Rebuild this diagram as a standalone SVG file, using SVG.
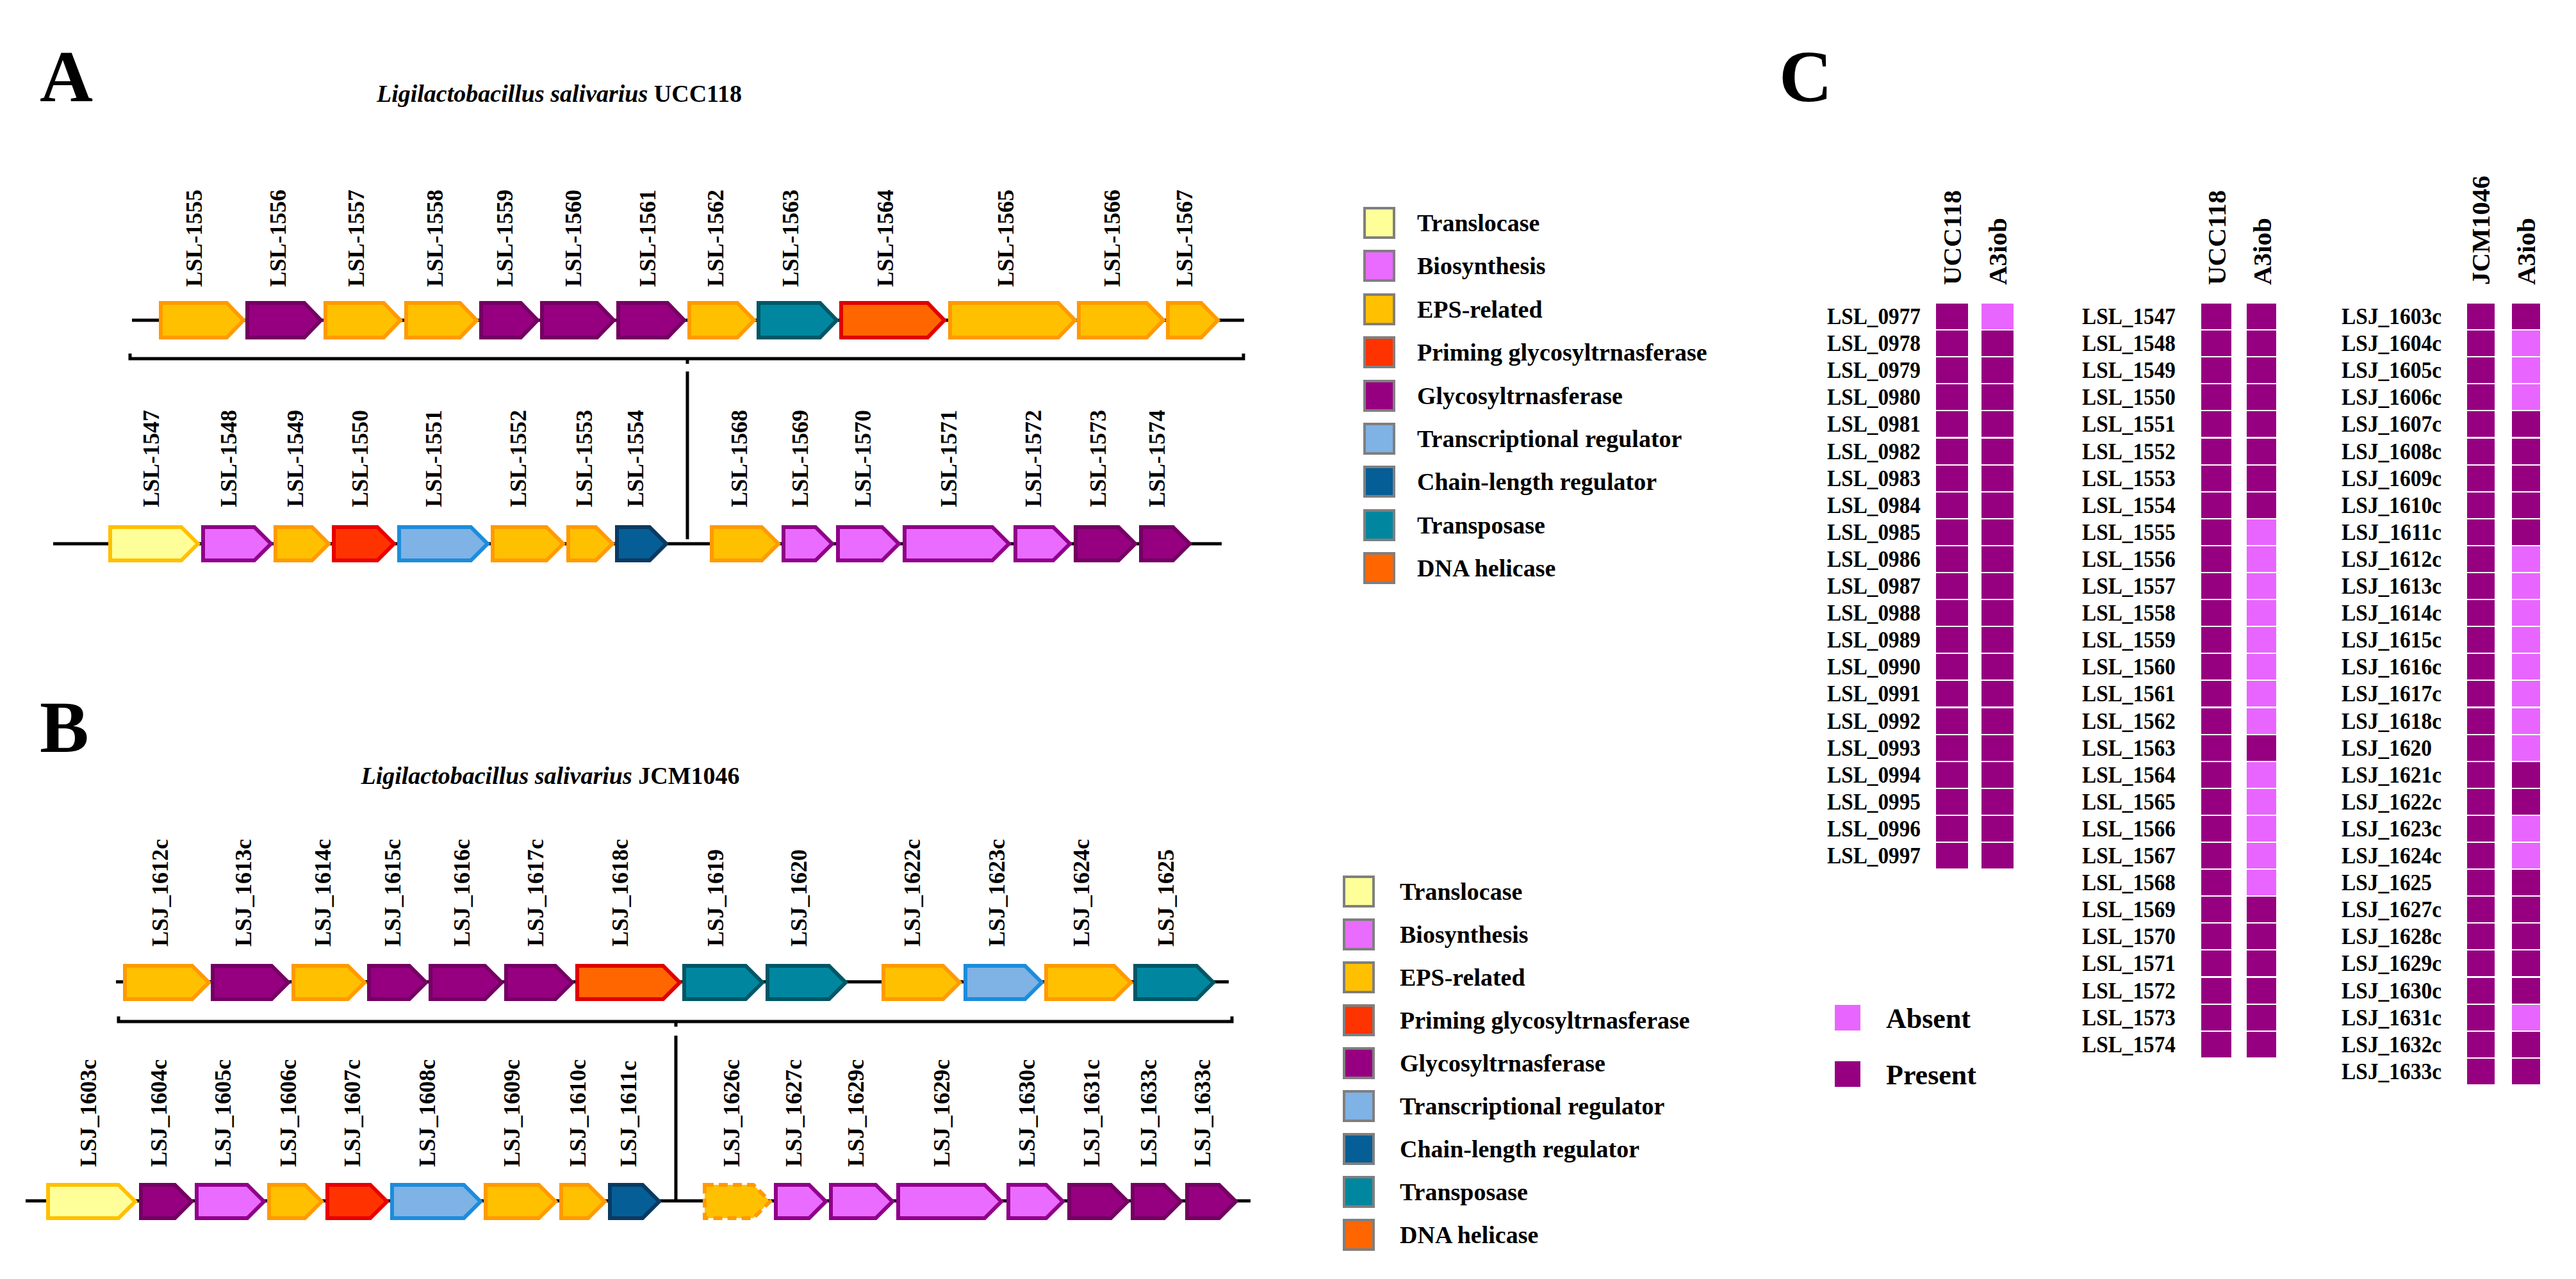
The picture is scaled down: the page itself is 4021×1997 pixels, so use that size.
<svg xmlns="http://www.w3.org/2000/svg" width="4021" height="1997" viewBox="0 0 4021 1997">
<style>
text{font-family:"Liberation Serif","Times New Roman",serif;font-weight:bold;fill:#000}
.pl{font-size:115px}
.ttl{font-size:38px}
.lab{font-size:36px}
.leg{font-size:38px}
.row{font-size:35px}
.hdr{font-size:41px}
.cl{font-size:44px}
polygon{stroke-width:6;stroke-linejoin:miter}
.trl{fill:#FFFF99;stroke:#FFC000}
.bio{fill:#EA6BFF;stroke:#8F0088}
.eps{fill:#FFC000;stroke:#FF9A00}
.pri{fill:#FF3300;stroke:#E80000}
.gly{fill:#960080;stroke:#730062}
.txr{fill:#7FB2E5;stroke:#1C8CDC}
.chl{fill:#065E96;stroke:#0A3A62}
.trp{fill:#00879F;stroke:#005766}
.dna{fill:#FF6600;stroke:#E00000}
.dash{stroke-dasharray:14 8}
.sw{stroke:#7F7F7F;stroke-width:4}
.line{stroke:#000;stroke-width:5;fill:none}
.p{fill:#960080}
.a{fill:#E866FF}
</style>

<!-- Panel letters and titles -->
<text class="pl" x="62" y="158">A</text>
<text class="pl" x="62" y="1174">B</text>
<text class="pl" x="2777" y="158">C</text>
<text class="ttl" x="873" y="159" text-anchor="middle"><tspan font-style="italic">Ligilactobacillus salivarius</tspan> UCC118</text>
<text class="ttl" x="859" y="1224" text-anchor="middle"><tspan font-style="italic">Ligilactobacillus salivarius</tspan> JCM1046</text>

<!-- connectors: backbones and brackets -->
<g id="connectors">
  <line class="line" x1="206" y1="500" x2="1942" y2="500"/>
  <polyline class="line" points="203,552 203,560 1941,560 1941,552"/>
  <line class="line" x1="1073" y1="560" x2="1073" y2="568"/>
  <line class="line" x1="1073" y1="580" x2="1073" y2="842"/>
  <line class="line" x1="83" y1="849" x2="1907" y2="849"/>

  <line class="line" x1="181" y1="1533" x2="1918" y2="1533"/>
  <polyline class="line" points="185,1587 185,1595 1923,1595 1923,1587"/>
  <line class="line" x1="1055" y1="1595" x2="1055" y2="1603"/>
  <line class="line" x1="1055" y1="1617" x2="1055" y2="1875"/>
  <line class="line" x1="40" y1="1875" x2="1952" y2="1875"/>
</g>

<!-- Panel A top row -->
<g id="A-top">
<g id="LSL-1555"><polygon class="eps" points="251,473 354,473 380,500 354,527 251,527"/><text class="lab" transform="translate(315,448) rotate(-90)">LSL-1555</text></g>
<g id="LSL-1556"><polygon class="gly" points="386,473 475,473 501,500 475,527 386,527"/><text class="lab" transform="translate(446,448) rotate(-90)">LSL-1556</text></g>
<g id="LSL-1557"><polygon class="eps" points="508,473 599,473 625,500 599,527 508,527"/><text class="lab" transform="translate(568,448) rotate(-90)">LSL-1557</text></g>
<g id="LSL-1558"><polygon class="eps" points="634,473 718,473 744,500 718,527 634,527"/><text class="lab" transform="translate(691,448) rotate(-90)">LSL-1558</text></g>
<g id="LSL-1559"><polygon class="gly" points="751,473 813,473 839,500 813,527 751,527"/><text class="lab" transform="translate(800,448) rotate(-90)">LSL-1559</text></g>
<g id="LSL-1560"><polygon class="gly" points="846,473 932,473 958,500 932,527 846,527"/><text class="lab" transform="translate(907,448) rotate(-90)">LSL-1560</text></g>
<g id="LSL-1561"><polygon class="gly" points="965,473 1042,473 1068,500 1042,527 965,527"/><text class="lab" transform="translate(1023,448) rotate(-90)">LSL-1561</text></g>
<g id="LSL-1562"><polygon class="eps" points="1076,473 1151,473 1177,500 1151,527 1076,527"/><text class="lab" transform="translate(1129,448) rotate(-90)">LSL-1562</text></g>
<g id="LSL-1563"><polygon class="trp" points="1184,473 1280,473 1306,500 1280,527 1184,527"/><text class="lab" transform="translate(1246,448) rotate(-90)">LSL-1563</text></g>
<g id="LSL-1564"><polygon class="dna" points="1313,473 1448,473 1474,500 1448,527 1313,527"/><text class="lab" transform="translate(1394,448) rotate(-90)">LSL-1564</text></g>
<g id="LSL-1565"><polygon class="eps" points="1483,473 1652,473 1678,500 1652,527 1483,527"/><text class="lab" transform="translate(1582,448) rotate(-90)">LSL-1565</text></g>
<g id="LSL-1566"><polygon class="eps" points="1684,473 1790,473 1816,500 1790,527 1684,527"/><text class="lab" transform="translate(1748,448) rotate(-90)">LSL-1566</text></g>
<g id="LSL-1567"><polygon class="eps" points="1823,473 1875,473 1901,500 1875,527 1823,527"/><text class="lab" transform="translate(1861,448) rotate(-90)">LSL-1567</text></g>
</g>

<!-- Panel A bottom row -->
<g id="A-bottom">
<g id="LSL-1547"><polygon class="trl" points="172,823 283,823 309,849 283,875 172,875"/><text class="lab" transform="translate(248,792) rotate(-90)">LSL-1547</text></g>
<g id="LSL-1548"><polygon class="bio" points="317,823 397,823 423,849 397,875 317,875"/><text class="lab" transform="translate(369,792) rotate(-90)">LSL-1548</text></g>
<g id="LSL-1549"><polygon class="eps" points="430,823 487,823 513,849 487,875 430,875"/><text class="lab" transform="translate(473,792) rotate(-90)">LSL-1549</text></g>
<g id="LSL-1550"><polygon class="pri" points="521,823 589,823 615,849 589,875 521,875"/><text class="lab" transform="translate(574,792) rotate(-90)">LSL-1550</text></g>
<g id="LSL-1551"><polygon class="txr" points="623,823 735,823 761,849 735,875 623,875"/><text class="lab" transform="translate(689,792) rotate(-90)">LSL-1551</text></g>
<g id="LSL-1552"><polygon class="eps" points="769,823 853,823 879,849 853,875 769,875"/><text class="lab" transform="translate(821,792) rotate(-90)">LSL-1552</text></g>
<g id="LSL-1553"><polygon class="eps" points="887,823 930,823 956,849 930,875 887,875"/><text class="lab" transform="translate(924,792) rotate(-90)">LSL-1553</text></g>
<g id="LSL-1554"><polygon class="chl" points="963,823 1014,823 1040,849 1014,875 963,875"/><text class="lab" transform="translate(1004,792) rotate(-90)">LSL-1554</text></g>
<g id="LSL-1568"><polygon class="eps" points="1111,823 1189,823 1215,849 1189,875 1111,875"/><text class="lab" transform="translate(1166,792) rotate(-90)">LSL-1568</text></g>
<g id="LSL-1569"><polygon class="bio" points="1223,823 1273,823 1299,849 1273,875 1223,875"/><text class="lab" transform="translate(1261,792) rotate(-90)">LSL-1569</text></g>
<g id="LSL-1570"><polygon class="bio" points="1308,823 1377,823 1403,849 1377,875 1308,875"/><text class="lab" transform="translate(1359,792) rotate(-90)">LSL-1570</text></g>
<g id="LSL-1571"><polygon class="bio" points="1412,823 1549,823 1575,849 1549,875 1412,875"/><text class="lab" transform="translate(1493,792) rotate(-90)">LSL-1571</text></g>
<g id="LSL-1572"><polygon class="bio" points="1585,823 1644,823 1670,849 1644,875 1585,875"/><text class="lab" transform="translate(1625,792) rotate(-90)">LSL-1572</text></g>
<g id="LSL-1573"><polygon class="gly" points="1679,823 1746,823 1772,849 1746,875 1679,875"/><text class="lab" transform="translate(1726,792) rotate(-90)">LSL-1573</text></g>
<g id="LSL-1574"><polygon class="gly" points="1781,823 1831,823 1857,849 1831,875 1781,875"/><text class="lab" transform="translate(1818,792) rotate(-90)">LSL-1574</text></g>
</g>

<!-- Panel B top row -->
<g id="B-top">
<g id="LSJ_1612c"><polygon class="eps" points="195,1508 300,1508 326,1534 300,1560 195,1560"/><text class="lab" transform="translate(262,1478) rotate(-90)">LSJ_1612c</text></g>
<g id="LSJ_1613c"><polygon class="gly" points="332,1508 424,1508 450,1534 424,1560 332,1560"/><text class="lab" transform="translate(392,1478) rotate(-90)">LSJ_1613c</text></g>
<g id="LSJ_1614c"><polygon class="eps" points="458,1508 543,1508 569,1534 543,1560 458,1560"/><text class="lab" transform="translate(516,1478) rotate(-90)">LSJ_1614c</text></g>
<g id="LSJ_1615c"><polygon class="gly" points="576,1508 639,1508 665,1534 639,1560 576,1560"/><text class="lab" transform="translate(625,1478) rotate(-90)">LSJ_1615c</text></g>
<g id="LSJ_1616c"><polygon class="gly" points="672,1508 757,1508 783,1534 757,1560 672,1560"/><text class="lab" transform="translate(733,1478) rotate(-90)">LSJ_1616c</text></g>
<g id="LSJ_1617c"><polygon class="gly" points="790,1508 867,1508 893,1534 867,1560 790,1560"/><text class="lab" transform="translate(848,1478) rotate(-90)">LSJ_1617c</text></g>
<g id="LSJ_1618c"><polygon class="dna" points="901,1508 1035,1508 1061,1534 1035,1560 901,1560"/><text class="lab" transform="translate(980,1478) rotate(-90)">LSJ_1618c</text></g>
<g id="LSJ_1619"><polygon class="trp" points="1068,1508 1164,1508 1190,1534 1164,1560 1068,1560"/><text class="lab" transform="translate(1129,1478) rotate(-90)">LSJ_1619</text></g>
<g id="LSJ_1620"><polygon class="trp" points="1198,1508 1294,1508 1320,1534 1294,1560 1198,1560"/><text class="lab" transform="translate(1259,1478) rotate(-90)">LSJ_1620</text></g>
<g id="LSJ_1622c"><polygon class="eps" points="1379,1508 1472,1508 1498,1534 1472,1560 1379,1560"/><text class="lab" transform="translate(1436,1478) rotate(-90)">LSJ_1622c</text></g>
<g id="LSJ_1623c"><polygon class="txr" points="1507,1508 1600,1508 1626,1534 1600,1560 1507,1560"/><text class="lab" transform="translate(1568,1478) rotate(-90)">LSJ_1623c</text></g>
<g id="LSJ_1624c"><polygon class="eps" points="1633,1508 1739,1508 1765,1534 1739,1560 1633,1560"/><text class="lab" transform="translate(1700,1478) rotate(-90)">LSJ_1624c</text></g>
<g id="LSJ_1625"><polygon class="trp" points="1772,1508 1868,1508 1894,1534 1868,1560 1772,1560"/><text class="lab" transform="translate(1832,1478) rotate(-90)">LSJ_1625</text></g>
</g>

<!-- Panel B bottom row -->
<g id="B-bottom">
<g id="LSJ_1603c"><polygon class="trl" points="75,1850 185,1850 211,1876 185,1902 75,1902"/><text class="lab" transform="translate(150,1822) rotate(-90)">LSJ_1603c</text></g>
<g id="LSJ_1604c"><polygon class="gly" points="220,1850 273,1850 299,1876 273,1902 220,1902"/><text class="lab" transform="translate(260,1822) rotate(-90)">LSJ_1604c</text></g>
<g id="LSJ_1605c"><polygon class="bio" points="307,1850 386,1850 412,1876 386,1902 307,1902"/><text class="lab" transform="translate(360,1822) rotate(-90)">LSJ_1605c</text></g>
<g id="LSJ_1606c"><polygon class="eps" points="420,1850 476,1850 502,1876 476,1902 420,1902"/><text class="lab" transform="translate(462,1822) rotate(-90)">LSJ_1606c</text></g>
<g id="LSJ_1607c"><polygon class="pri" points="511,1850 578,1850 604,1876 578,1902 511,1902"/><text class="lab" transform="translate(562,1822) rotate(-90)">LSJ_1607c</text></g>
<g id="LSJ_1608c"><polygon class="txr" points="612,1850 724,1850 750,1876 724,1902 612,1902"/><text class="lab" transform="translate(679,1822) rotate(-90)">LSJ_1608c</text></g>
<g id="LSJ_1609c"><polygon class="eps" points="758,1850 841,1850 867,1876 841,1902 758,1902"/><text class="lab" transform="translate(811,1822) rotate(-90)">LSJ_1609c</text></g>
<g id="LSJ_1610c"><polygon class="eps" points="876,1850 918,1850 944,1876 918,1902 876,1902"/><text class="lab" transform="translate(914,1822) rotate(-90)">LSJ_1610c</text></g>
<g id="LSJ_1611c"><polygon class="chl" points="952,1850 1003,1850 1029,1876 1003,1902 952,1902"/><text class="lab" transform="translate(993,1822) rotate(-90)">LSJ_1611c</text></g>
<g id="LSJ_1626c"><polygon class="eps dash" points="1100,1850 1176,1850 1202,1876 1176,1902 1100,1902"/><text class="lab" transform="translate(1154,1822) rotate(-90)">LSJ_1626c</text></g>
<g id="LSJ_1627c"><polygon class="bio" points="1211,1850 1263,1850 1289,1876 1263,1902 1211,1902"/><text class="lab" transform="translate(1251,1822) rotate(-90)">LSJ_1627c</text></g>
<g id="LSJ_1629c-a"><polygon class="bio" points="1297,1850 1367,1850 1393,1876 1367,1902 1297,1902"/><text class="lab" transform="translate(1348,1822) rotate(-90)">LSJ_1629c</text></g>
<g id="LSJ_1629c-b"><polygon class="bio" points="1402,1850 1537,1850 1563,1876 1537,1902 1402,1902"/><text class="lab" transform="translate(1482,1822) rotate(-90)">LSJ_1629c</text></g>
<g id="LSJ_1630c"><polygon class="bio" points="1574,1850 1633,1850 1659,1876 1633,1902 1574,1902"/><text class="lab" transform="translate(1615,1822) rotate(-90)">LSJ_1630c</text></g>
<g id="LSJ_1631c"><polygon class="gly" points="1669,1850 1734,1850 1760,1876 1734,1902 1669,1902"/><text class="lab" transform="translate(1716,1822) rotate(-90)">LSJ_1631c</text></g>
<g id="LSJ_1633c-a"><polygon class="gly" points="1768,1850 1817,1850 1843,1876 1817,1902 1768,1902"/><text class="lab" transform="translate(1805,1822) rotate(-90)">LSJ_1633c</text></g>
<g id="LSJ_1633c-b"><polygon class="gly" points="1853,1850 1903,1850 1929,1876 1903,1902 1853,1902"/><text class="lab" transform="translate(1889,1822) rotate(-90)">LSJ_1633c</text></g>
</g>

<!-- Legend A -->
<g id="legend-A">
<rect class="sw trl" x="2130" y="325" width="46" height="46"/><text class="leg" x="2212" y="361">Translocase</text>
<rect class="sw bio" x="2130" y="392" width="46" height="46"/><text class="leg" x="2212" y="428">Biosynthesis</text>
<rect class="sw eps" x="2130" y="460" width="46" height="46"/><text class="leg" x="2212" y="496">EPS-related</text>
<rect class="sw pri" x="2130" y="527" width="46" height="46"/><text class="leg" x="2212" y="563">Priming glycosyltrnasferase</text>
<rect class="sw gly" x="2130" y="595" width="46" height="46"/><text class="leg" x="2212" y="631">Glycosyltrnasferase</text>
<rect class="sw txr" x="2130" y="662" width="46" height="46"/><text class="leg" x="2212" y="698">Transcriptional regulator</text>
<rect class="sw chl" x="2130" y="729" width="46" height="46"/><text class="leg" x="2212" y="765">Chain-length regulator</text>
<rect class="sw trp" x="2130" y="797" width="46" height="46"/><text class="leg" x="2212" y="833">Transposase</text>
<rect class="sw dna" x="2130" y="864" width="46" height="46"/><text class="leg" x="2212" y="900">DNA helicase</text>
</g>

<!-- Legend B -->
<g id="legend-B">
<rect class="sw trl" x="2098" y="1369" width="46" height="46"/><text class="leg" x="2185" y="1405">Translocase</text>
<rect class="sw bio" x="2098" y="1436" width="46" height="46"/><text class="leg" x="2185" y="1472">Biosynthesis</text>
<rect class="sw eps" x="2098" y="1503" width="46" height="46"/><text class="leg" x="2185" y="1539">EPS-related</text>
<rect class="sw pri" x="2098" y="1570" width="46" height="46"/><text class="leg" x="2185" y="1606">Priming glycosyltrnasferase</text>
<rect class="sw gly" x="2098" y="1637" width="46" height="46"/><text class="leg" x="2185" y="1673">Glycosyltrnasferase</text>
<rect class="sw txr" x="2098" y="1704" width="46" height="46"/><text class="leg" x="2185" y="1740">Transcriptional regulator</text>
<rect class="sw chl" x="2098" y="1771" width="46" height="46"/><text class="leg" x="2185" y="1807">Chain-length regulator</text>
<rect class="sw trp" x="2098" y="1838" width="46" height="46"/><text class="leg" x="2185" y="1874">Transposase</text>
<rect class="sw dna" x="2098" y="1905" width="46" height="46"/><text class="leg" x="2185" y="1941">DNA helicase</text>
</g>

<!-- Panel C column 1 -->
<g id="C-col1">
<text class="hdr" transform="translate(3061,445) rotate(-90)">UCC118</text>
<text class="hdr" transform="translate(3132,445) rotate(-90)">A3iob</text>
<g class="row">
<text x="2852" y="506" textLength="146" lengthAdjust="spacingAndGlyphs">LSL_0977</text>
<text x="2852" y="548" textLength="146" lengthAdjust="spacingAndGlyphs">LSL_0978</text>
<text x="2852" y="590" textLength="146" lengthAdjust="spacingAndGlyphs">LSL_0979</text>
<text x="2852" y="632" textLength="146" lengthAdjust="spacingAndGlyphs">LSL_0980</text>
<text x="2852" y="674" textLength="146" lengthAdjust="spacingAndGlyphs">LSL_0981</text>
<text x="2852" y="717" textLength="146" lengthAdjust="spacingAndGlyphs">LSL_0982</text>
<text x="2852" y="759" textLength="146" lengthAdjust="spacingAndGlyphs">LSL_0983</text>
<text x="2852" y="801" textLength="146" lengthAdjust="spacingAndGlyphs">LSL_0984</text>
<text x="2852" y="843" textLength="146" lengthAdjust="spacingAndGlyphs">LSL_0985</text>
<text x="2852" y="885" textLength="146" lengthAdjust="spacingAndGlyphs">LSL_0986</text>
<text x="2852" y="927" textLength="146" lengthAdjust="spacingAndGlyphs">LSL_0987</text>
<text x="2852" y="969" textLength="146" lengthAdjust="spacingAndGlyphs">LSL_0988</text>
<text x="2852" y="1011" textLength="146" lengthAdjust="spacingAndGlyphs">LSL_0989</text>
<text x="2852" y="1053" textLength="146" lengthAdjust="spacingAndGlyphs">LSL_0990</text>
<text x="2852" y="1095" textLength="146" lengthAdjust="spacingAndGlyphs">LSL_0991</text>
<text x="2852" y="1138" textLength="146" lengthAdjust="spacingAndGlyphs">LSL_0992</text>
<text x="2852" y="1180" textLength="146" lengthAdjust="spacingAndGlyphs">LSL_0993</text>
<text x="2852" y="1222" textLength="146" lengthAdjust="spacingAndGlyphs">LSL_0994</text>
<text x="2852" y="1264" textLength="146" lengthAdjust="spacingAndGlyphs">LSL_0995</text>
<text x="2852" y="1306" textLength="146" lengthAdjust="spacingAndGlyphs">LSL_0996</text>
<text x="2852" y="1348" textLength="146" lengthAdjust="spacingAndGlyphs">LSL_0997</text>
</g>
<g>
<rect class="p" x="3022" y="474" width="50" height="40"/><rect class="a" x="3093" y="474" width="50" height="40"/>
<rect class="p" x="3022" y="516" width="50" height="40"/><rect class="p" x="3093" y="516" width="50" height="40"/>
<rect class="p" x="3022" y="558" width="50" height="40"/><rect class="p" x="3093" y="558" width="50" height="40"/>
<rect class="p" x="3022" y="600" width="50" height="40"/><rect class="p" x="3093" y="600" width="50" height="40"/>
<rect class="p" x="3022" y="642" width="50" height="40"/><rect class="p" x="3093" y="642" width="50" height="40"/>
<rect class="p" x="3022" y="685" width="50" height="40"/><rect class="p" x="3093" y="685" width="50" height="40"/>
<rect class="p" x="3022" y="727" width="50" height="40"/><rect class="p" x="3093" y="727" width="50" height="40"/>
<rect class="p" x="3022" y="769" width="50" height="40"/><rect class="p" x="3093" y="769" width="50" height="40"/>
<rect class="p" x="3022" y="811" width="50" height="40"/><rect class="p" x="3093" y="811" width="50" height="40"/>
<rect class="p" x="3022" y="853" width="50" height="40"/><rect class="p" x="3093" y="853" width="50" height="40"/>
<rect class="p" x="3022" y="895" width="50" height="40"/><rect class="p" x="3093" y="895" width="50" height="40"/>
<rect class="p" x="3022" y="937" width="50" height="40"/><rect class="p" x="3093" y="937" width="50" height="40"/>
<rect class="p" x="3022" y="979" width="50" height="40"/><rect class="p" x="3093" y="979" width="50" height="40"/>
<rect class="p" x="3022" y="1021" width="50" height="40"/><rect class="p" x="3093" y="1021" width="50" height="40"/>
<rect class="p" x="3022" y="1063" width="50" height="40"/><rect class="p" x="3093" y="1063" width="50" height="40"/>
<rect class="p" x="3022" y="1106" width="50" height="40"/><rect class="p" x="3093" y="1106" width="50" height="40"/>
<rect class="p" x="3022" y="1148" width="50" height="40"/><rect class="p" x="3093" y="1148" width="50" height="40"/>
<rect class="p" x="3022" y="1190" width="50" height="40"/><rect class="p" x="3093" y="1190" width="50" height="40"/>
<rect class="p" x="3022" y="1232" width="50" height="40"/><rect class="p" x="3093" y="1232" width="50" height="40"/>
<rect class="p" x="3022" y="1274" width="50" height="40"/><rect class="p" x="3093" y="1274" width="50" height="40"/>
<rect class="p" x="3022" y="1316" width="50" height="40"/><rect class="p" x="3093" y="1316" width="50" height="40"/>
</g>
</g>

<!-- Panel C column 2 -->
<g id="C-col2">
<text class="hdr" transform="translate(3474,445) rotate(-90)">UCC118</text>
<text class="hdr" transform="translate(3545,445) rotate(-90)">A3iob</text>
<g class="row">
<text x="3250" y="506" textLength="146" lengthAdjust="spacingAndGlyphs">LSL_1547</text>
<text x="3250" y="548" textLength="146" lengthAdjust="spacingAndGlyphs">LSL_1548</text>
<text x="3250" y="590" textLength="146" lengthAdjust="spacingAndGlyphs">LSL_1549</text>
<text x="3250" y="632" textLength="146" lengthAdjust="spacingAndGlyphs">LSL_1550</text>
<text x="3250" y="674" textLength="146" lengthAdjust="spacingAndGlyphs">LSL_1551</text>
<text x="3250" y="717" textLength="146" lengthAdjust="spacingAndGlyphs">LSL_1552</text>
<text x="3250" y="759" textLength="146" lengthAdjust="spacingAndGlyphs">LSL_1553</text>
<text x="3250" y="801" textLength="146" lengthAdjust="spacingAndGlyphs">LSL_1554</text>
<text x="3250" y="843" textLength="146" lengthAdjust="spacingAndGlyphs">LSL_1555</text>
<text x="3250" y="885" textLength="146" lengthAdjust="spacingAndGlyphs">LSL_1556</text>
<text x="3250" y="927" textLength="146" lengthAdjust="spacingAndGlyphs">LSL_1557</text>
<text x="3250" y="969" textLength="146" lengthAdjust="spacingAndGlyphs">LSL_1558</text>
<text x="3250" y="1011" textLength="146" lengthAdjust="spacingAndGlyphs">LSL_1559</text>
<text x="3250" y="1053" textLength="146" lengthAdjust="spacingAndGlyphs">LSL_1560</text>
<text x="3250" y="1095" textLength="146" lengthAdjust="spacingAndGlyphs">LSL_1561</text>
<text x="3250" y="1138" textLength="146" lengthAdjust="spacingAndGlyphs">LSL_1562</text>
<text x="3250" y="1180" textLength="146" lengthAdjust="spacingAndGlyphs">LSL_1563</text>
<text x="3250" y="1222" textLength="146" lengthAdjust="spacingAndGlyphs">LSL_1564</text>
<text x="3250" y="1264" textLength="146" lengthAdjust="spacingAndGlyphs">LSL_1565</text>
<text x="3250" y="1306" textLength="146" lengthAdjust="spacingAndGlyphs">LSL_1566</text>
<text x="3250" y="1348" textLength="146" lengthAdjust="spacingAndGlyphs">LSL_1567</text>
<text x="3250" y="1390" textLength="146" lengthAdjust="spacingAndGlyphs">LSL_1568</text>
<text x="3250" y="1432" textLength="146" lengthAdjust="spacingAndGlyphs">LSL_1569</text>
<text x="3250" y="1474" textLength="146" lengthAdjust="spacingAndGlyphs">LSL_1570</text>
<text x="3250" y="1516" textLength="146" lengthAdjust="spacingAndGlyphs">LSL_1571</text>
<text x="3250" y="1559" textLength="146" lengthAdjust="spacingAndGlyphs">LSL_1572</text>
<text x="3250" y="1601" textLength="146" lengthAdjust="spacingAndGlyphs">LSL_1573</text>
<text x="3250" y="1643" textLength="146" lengthAdjust="spacingAndGlyphs">LSL_1574</text>
</g>
<g>
<rect class="p" x="3436" y="474" width="47" height="40"/><rect class="p" x="3507" y="474" width="46" height="40"/>
<rect class="p" x="3436" y="516" width="47" height="40"/><rect class="p" x="3507" y="516" width="46" height="40"/>
<rect class="p" x="3436" y="558" width="47" height="40"/><rect class="p" x="3507" y="558" width="46" height="40"/>
<rect class="p" x="3436" y="600" width="47" height="40"/><rect class="p" x="3507" y="600" width="46" height="40"/>
<rect class="p" x="3436" y="642" width="47" height="40"/><rect class="p" x="3507" y="642" width="46" height="40"/>
<rect class="p" x="3436" y="685" width="47" height="40"/><rect class="p" x="3507" y="685" width="46" height="40"/>
<rect class="p" x="3436" y="727" width="47" height="40"/><rect class="p" x="3507" y="727" width="46" height="40"/>
<rect class="p" x="3436" y="769" width="47" height="40"/><rect class="p" x="3507" y="769" width="46" height="40"/>
<rect class="p" x="3436" y="811" width="47" height="40"/><rect class="a" x="3507" y="811" width="46" height="40"/>
<rect class="p" x="3436" y="853" width="47" height="40"/><rect class="a" x="3507" y="853" width="46" height="40"/>
<rect class="p" x="3436" y="895" width="47" height="40"/><rect class="a" x="3507" y="895" width="46" height="40"/>
<rect class="p" x="3436" y="937" width="47" height="40"/><rect class="a" x="3507" y="937" width="46" height="40"/>
<rect class="p" x="3436" y="979" width="47" height="40"/><rect class="a" x="3507" y="979" width="46" height="40"/>
<rect class="p" x="3436" y="1021" width="47" height="40"/><rect class="a" x="3507" y="1021" width="46" height="40"/>
<rect class="p" x="3436" y="1063" width="47" height="40"/><rect class="a" x="3507" y="1063" width="46" height="40"/>
<rect class="p" x="3436" y="1106" width="47" height="40"/><rect class="a" x="3507" y="1106" width="46" height="40"/>
<rect class="p" x="3436" y="1148" width="47" height="40"/><rect class="p" x="3507" y="1148" width="46" height="40"/>
<rect class="p" x="3436" y="1190" width="47" height="40"/><rect class="a" x="3507" y="1190" width="46" height="40"/>
<rect class="p" x="3436" y="1232" width="47" height="40"/><rect class="a" x="3507" y="1232" width="46" height="40"/>
<rect class="p" x="3436" y="1274" width="47" height="40"/><rect class="a" x="3507" y="1274" width="46" height="40"/>
<rect class="p" x="3436" y="1316" width="47" height="40"/><rect class="a" x="3507" y="1316" width="46" height="40"/>
<rect class="p" x="3436" y="1358" width="47" height="40"/><rect class="a" x="3507" y="1358" width="46" height="40"/>
<rect class="p" x="3436" y="1400" width="47" height="40"/><rect class="p" x="3507" y="1400" width="46" height="40"/>
<rect class="p" x="3436" y="1442" width="47" height="40"/><rect class="p" x="3507" y="1442" width="46" height="40"/>
<rect class="p" x="3436" y="1484" width="47" height="40"/><rect class="p" x="3507" y="1484" width="46" height="40"/>
<rect class="p" x="3436" y="1527" width="47" height="40"/><rect class="p" x="3507" y="1527" width="46" height="40"/>
<rect class="p" x="3436" y="1569" width="47" height="40"/><rect class="p" x="3507" y="1569" width="46" height="40"/>
<rect class="p" x="3436" y="1611" width="47" height="40"/><rect class="p" x="3507" y="1611" width="46" height="40"/>
</g>
</g>

<!-- Panel C column 3 -->
<g id="C-col3">
<text class="hdr" transform="translate(3886,445) rotate(-90)">JCM1046</text>
<text class="hdr" transform="translate(3957,445) rotate(-90)">A3iob</text>
<g class="row">
<text x="3655" y="506" textLength="156" lengthAdjust="spacingAndGlyphs">LSJ_1603c</text>
<text x="3655" y="548" textLength="156" lengthAdjust="spacingAndGlyphs">LSJ_1604c</text>
<text x="3655" y="590" textLength="156" lengthAdjust="spacingAndGlyphs">LSJ_1605c</text>
<text x="3655" y="632" textLength="156" lengthAdjust="spacingAndGlyphs">LSJ_1606c</text>
<text x="3655" y="674" textLength="156" lengthAdjust="spacingAndGlyphs">LSJ_1607c</text>
<text x="3655" y="717" textLength="156" lengthAdjust="spacingAndGlyphs">LSJ_1608c</text>
<text x="3655" y="759" textLength="156" lengthAdjust="spacingAndGlyphs">LSJ_1609c</text>
<text x="3655" y="801" textLength="156" lengthAdjust="spacingAndGlyphs">LSJ_1610c</text>
<text x="3655" y="843" textLength="156" lengthAdjust="spacingAndGlyphs">LSJ_1611c</text>
<text x="3655" y="885" textLength="156" lengthAdjust="spacingAndGlyphs">LSJ_1612c</text>
<text x="3655" y="927" textLength="156" lengthAdjust="spacingAndGlyphs">LSJ_1613c</text>
<text x="3655" y="969" textLength="156" lengthAdjust="spacingAndGlyphs">LSJ_1614c</text>
<text x="3655" y="1011" textLength="156" lengthAdjust="spacingAndGlyphs">LSJ_1615c</text>
<text x="3655" y="1053" textLength="156" lengthAdjust="spacingAndGlyphs">LSJ_1616c</text>
<text x="3655" y="1095" textLength="156" lengthAdjust="spacingAndGlyphs">LSJ_1617c</text>
<text x="3655" y="1138" textLength="156" lengthAdjust="spacingAndGlyphs">LSJ_1618c</text>
<text x="3655" y="1180" textLength="141" lengthAdjust="spacingAndGlyphs">LSJ_1620</text>
<text x="3655" y="1222" textLength="156" lengthAdjust="spacingAndGlyphs">LSJ_1621c</text>
<text x="3655" y="1264" textLength="156" lengthAdjust="spacingAndGlyphs">LSJ_1622c</text>
<text x="3655" y="1306" textLength="156" lengthAdjust="spacingAndGlyphs">LSJ_1623c</text>
<text x="3655" y="1348" textLength="156" lengthAdjust="spacingAndGlyphs">LSJ_1624c</text>
<text x="3655" y="1390" textLength="141" lengthAdjust="spacingAndGlyphs">LSJ_1625</text>
<text x="3655" y="1432" textLength="156" lengthAdjust="spacingAndGlyphs">LSJ_1627c</text>
<text x="3655" y="1474" textLength="156" lengthAdjust="spacingAndGlyphs">LSJ_1628c</text>
<text x="3655" y="1516" textLength="156" lengthAdjust="spacingAndGlyphs">LSJ_1629c</text>
<text x="3655" y="1559" textLength="156" lengthAdjust="spacingAndGlyphs">LSJ_1630c</text>
<text x="3655" y="1601" textLength="156" lengthAdjust="spacingAndGlyphs">LSJ_1631c</text>
<text x="3655" y="1643" textLength="156" lengthAdjust="spacingAndGlyphs">LSJ_1632c</text>
<text x="3655" y="1685" textLength="156" lengthAdjust="spacingAndGlyphs">LSJ_1633c</text>
</g>
<g>
<rect class="p" x="3851" y="474" width="43" height="40"/><rect class="p" x="3921" y="474" width="44" height="40"/>
<rect class="p" x="3851" y="516" width="43" height="40"/><rect class="a" x="3921" y="516" width="44" height="40"/>
<rect class="p" x="3851" y="558" width="43" height="40"/><rect class="a" x="3921" y="558" width="44" height="40"/>
<rect class="p" x="3851" y="600" width="43" height="40"/><rect class="a" x="3921" y="600" width="44" height="40"/>
<rect class="p" x="3851" y="642" width="43" height="40"/><rect class="p" x="3921" y="642" width="44" height="40"/>
<rect class="p" x="3851" y="685" width="43" height="40"/><rect class="p" x="3921" y="685" width="44" height="40"/>
<rect class="p" x="3851" y="727" width="43" height="40"/><rect class="p" x="3921" y="727" width="44" height="40"/>
<rect class="p" x="3851" y="769" width="43" height="40"/><rect class="p" x="3921" y="769" width="44" height="40"/>
<rect class="p" x="3851" y="811" width="43" height="40"/><rect class="p" x="3921" y="811" width="44" height="40"/>
<rect class="p" x="3851" y="853" width="43" height="40"/><rect class="a" x="3921" y="853" width="44" height="40"/>
<rect class="p" x="3851" y="895" width="43" height="40"/><rect class="a" x="3921" y="895" width="44" height="40"/>
<rect class="p" x="3851" y="937" width="43" height="40"/><rect class="a" x="3921" y="937" width="44" height="40"/>
<rect class="p" x="3851" y="979" width="43" height="40"/><rect class="a" x="3921" y="979" width="44" height="40"/>
<rect class="p" x="3851" y="1021" width="43" height="40"/><rect class="a" x="3921" y="1021" width="44" height="40"/>
<rect class="p" x="3851" y="1063" width="43" height="40"/><rect class="a" x="3921" y="1063" width="44" height="40"/>
<rect class="p" x="3851" y="1106" width="43" height="40"/><rect class="a" x="3921" y="1106" width="44" height="40"/>
<rect class="p" x="3851" y="1148" width="43" height="40"/><rect class="a" x="3921" y="1148" width="44" height="40"/>
<rect class="p" x="3851" y="1190" width="43" height="40"/><rect class="p" x="3921" y="1190" width="44" height="40"/>
<rect class="p" x="3851" y="1232" width="43" height="40"/><rect class="p" x="3921" y="1232" width="44" height="40"/>
<rect class="p" x="3851" y="1274" width="43" height="40"/><rect class="a" x="3921" y="1274" width="44" height="40"/>
<rect class="p" x="3851" y="1316" width="43" height="40"/><rect class="a" x="3921" y="1316" width="44" height="40"/>
<rect class="p" x="3851" y="1358" width="43" height="40"/><rect class="p" x="3921" y="1358" width="44" height="40"/>
<rect class="p" x="3851" y="1400" width="43" height="40"/><rect class="p" x="3921" y="1400" width="44" height="40"/>
<rect class="p" x="3851" y="1442" width="43" height="40"/><rect class="p" x="3921" y="1442" width="44" height="40"/>
<rect class="p" x="3851" y="1484" width="43" height="40"/><rect class="p" x="3921" y="1484" width="44" height="40"/>
<rect class="p" x="3851" y="1527" width="43" height="40"/><rect class="p" x="3921" y="1527" width="44" height="40"/>
<rect class="p" x="3851" y="1569" width="43" height="40"/><rect class="a" x="3921" y="1569" width="44" height="40"/>
<rect class="p" x="3851" y="1611" width="43" height="40"/><rect class="p" x="3921" y="1611" width="44" height="40"/>
<rect class="p" x="3851" y="1653" width="43" height="40"/><rect class="p" x="3921" y="1653" width="44" height="40"/>
</g>
</g>

<!-- Panel C legend -->
<g id="legend-C">
<rect class="a" x="2864" y="1569" width="40" height="40"/><text class="cl" x="2944" y="1605">Absent</text>
<rect class="p" x="2864" y="1657" width="40" height="40"/><text class="cl" x="2944" y="1693">Present</text>
</g>
</svg>
